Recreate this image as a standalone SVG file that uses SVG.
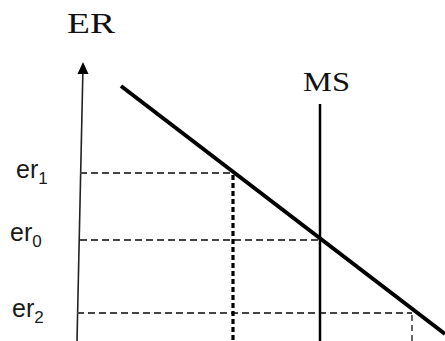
<svg xmlns="http://www.w3.org/2000/svg" width="445" height="341" viewBox="0 0 445 341">
<defs>
<style>
.serif{font-family:"Liberation Serif","Times New Roman",serif;fill:#111}
.sans{font-family:"Liberation Sans",Arial,sans-serif;fill:#1a1a1a}
.dash{stroke:#444;stroke-width:2.2;stroke-dasharray:7 4;fill:none}
.dot{stroke:#000;stroke-width:3.2;stroke-dasharray:5 3;fill:none}
.gdash{stroke:#666;stroke-width:2;stroke-dasharray:6 4;fill:none}
</style>
</defs>
<rect width="445" height="341" fill="#fff"/>
<g id="axis">
<line x1="77" y1="341" x2="83" y2="66" stroke="#222" stroke-width="1.6"/>
<path d="M77.5,74 L83,62 L88.5,74 Z" fill="#000"/>
<text class="serif" x="67" y="33" font-size="29" textLength="48" lengthAdjust="spacingAndGlyphs">ER</text>
</g>
<g id="connectors">
<line class="dash" x1="80" y1="173" x2="234" y2="173"/>
<line class="dash" x1="80" y1="240" x2="320" y2="240"/>
<line class="dash" x1="77" y1="313" x2="412" y2="313"/>
<line class="dot" x1="233" y1="175" x2="233" y2="341"/>
<line class="gdash" x1="412" y1="315" x2="412" y2="341"/>
</g>
<g id="demand">
<line x1="121" y1="86" x2="445" y2="334" stroke="#000" stroke-width="4"/>
</g>
<g id="MS">
<line x1="320" y1="104" x2="320" y2="341" stroke="#000" stroke-width="2.5"/>
<text class="serif" x="303" y="91" font-size="27" textLength="47" lengthAdjust="spacingAndGlyphs">MS</text>
</g>
<g id="er1">
<text class="sans" x="16" y="178" font-size="25">er<tspan font-size="17" dy="6">1</tspan></text>
</g>
<g id="er0">
<text class="sans" x="10" y="241" font-size="25">er<tspan font-size="17" dy="6">0</tspan></text>
</g>
<g id="er2">
<text class="sans" x="12" y="317" font-size="25">er<tspan font-size="17" dy="6">2</tspan></text>
</g>
</svg>
